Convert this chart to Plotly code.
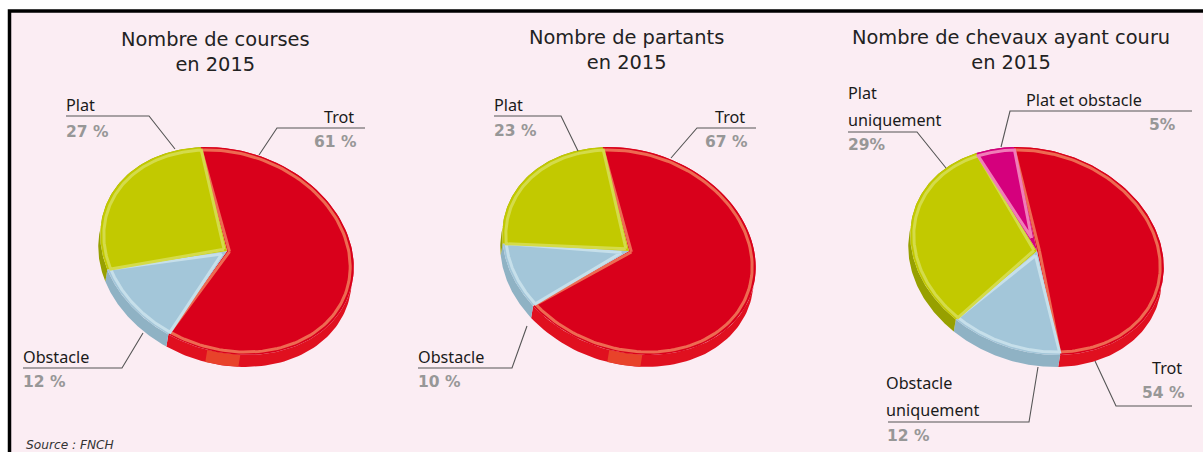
import numpy as np
import plotly.graph_objects as go

# Slice shares as labelled on the picture
courses_names = ["Trot", "Obstacle", "Plat"]
courses_values = [61, 12, 27]
partants_names = ["Trot", "Obstacle", "Plat"]
partants_values = [67, 10, 23]
# The third pie is not drawn to its printed labels: these are the shares
chevaux_names = ["Trot", "Obstacle uniquement", "Plat uniquement", "Plat et obstacle"]
chevaux_values = [50, 14, 31, 5]

titles = ["Nombre de courses<br>en 2015", "Nombre de partants<br>en 2015", "Nombre de chevaux ayant couru<br>en 2015"]
source_text = "Source : FNCH"

W, H = 1203, 452
BG = "#FBEDF3"
STYLE = {
    "Trot": ("#D9001B", "#EE6A52", "#E0101F"),
    "Obstacle": ("#A3C6D9", "#C6DFEA", "#8FB2C4"),
    "Plat": ("#C2C900", "#D4DB4A", "#97A000"),
    "Plat et obstacle": ("#D5007D", "#F07DB8", "#A8005F"),
}
PHI = np.radians(19)
RA, RB = 129.5, 100.5
DEPTH = (-2, 12)


def style_for(name):
    if name.startswith("Obstacle"):
        return STYLE["Obstacle"]
    if name.startswith("Plat u"):
        return STYLE["Plat"]
    return STYLE[name]


def project(hub, t, r=1.0):
    u, v = RA * r * np.cos(t), RB * r * np.sin(t)
    return hub[0] + u * np.cos(PHI) - v * np.sin(PHI), hub[1] + u * np.sin(PHI) + v * np.cos(PHI)


fig = go.Figure()


def add_pie(names, values, hub, start_deg, sheen=None):
    total = sum(values)
    edges = np.radians(start_deg) + np.concatenate([[0], np.cumsum(values)]) / total * 2 * np.pi

    def wall(t, color, name):
        x, y = project(hub, t)
        fig.add_trace(go.Scatter(
            x=np.concatenate([x, x[::-1] + DEPTH[0]]), y=np.concatenate([y, y[::-1] + DEPTH[1]]),
            fill="toself", mode="lines", fillcolor=color,
            line=dict(width=0), name=name, hoverinfo="skip"))

    for i, name in enumerate(names):
        wall(np.linspace(edges[i], edges[i + 1], 120), style_for(name)[2], name)
    if sheen:
        wall(np.radians(np.linspace(sheen[0], sheen[1], 20)), "#E8432A", names[0])
    for i, name in enumerate(names):  # top face
        main, light, _ = style_for(name)
        t = np.linspace(edges[i], edges[i + 1], 120)
        x, y = project(hub, t)
        fig.add_trace(go.Scatter(
            x=np.concatenate([[hub[0]], x, [hub[0]]]), y=np.concatenate([[hub[1]], y, [hub[1]]]),
            fill="toself", mode="lines", fillcolor=main, line=dict(width=0),
            name=name, hoverinfo="skip"))
        mid = (edges[i] + edges[i + 1]) / 2
        half = min((edges[i + 1] - edges[i]) / 2, np.pi / 2)
        hx, hy = project((0, 0), mid, 0.02 / np.sin(half))
        x3, y3 = project(hub, t, 0.972)
        fig.add_trace(go.Scatter(
            x=np.concatenate([[hub[0] + hx], x3, [hub[0] + hx]]),
            y=np.concatenate([[hub[1] + hy], y3, [hub[1] + hy]]),
            fill="toself", mode="lines", fillcolor=main, line=dict(width=3, color=light),
            name=name, hoverinfo="skip"))


add_pie(courses_names, courses_values, (227, 251), -117, sheen=(69, 84))
add_pie(partants_names, partants_values, (629, 251), -117, sheen=(69, 84))
add_pie(chevaux_names, chevaux_values, (1037, 251), -115.5)


def text(x, y, s, anchor="left", size=16.2, color="#1a1a1a", font="Noto Sans", bold=False, italic=False):
    fig.add_annotation(x=x, y=y, text=("<b>%s</b>" % s) if bold else ("<i>%s</i>" % s) if italic else s,
                       xref="x", yref="y", xanchor=anchor, yanchor="middle", showarrow=False,
                       font=dict(family=font, size=size, color=color), align="center")


def pct(x, y, s, anchor="left"):
    text(x, y, s, anchor, size=15.5, color="#979797", font="DejaVu Sans", bold=True)


for cx, cy, s in zip([215, 626, 1011], [52, 50, 50], titles):
    fig.add_annotation(x=cx, y=cy, text=s, xref="x", yref="y", showarrow=False, align="center",
                       font=dict(family="DejaVu Sans", size=19.4, color="#222222"))

for x, y, s in [(64, 105, "Plat"), (21, 357, "Obstacle"), (492, 105, "Plat"), (416, 357, "Obstacle"),
                (846, 93, "Plat"), (846, 120, "uniquement"), (1024, 100, "Plat et obstacle"),
                (884, 383, "Obstacle"), (884, 410, "uniquement")]:
    text(x, y, s)
for x, y, s in [(356, 117, "Trot"), (747, 117, "Trot"), (1184, 368, "Trot")]:
    text(x, y, s, "right")
for x, y, s in [(64, 132, "27 %"), (21, 382, "12 %"), (492, 131, "23 %"), (416, 382, "10 %"),
                (846, 145, "29%"), (885, 436, "12 %")]:
    pct(x, y, s)
for x, y, s in [(359, 142, "61 %"), (750, 142, "67 %"), (1178, 125, "5%"), (1187, 393, "54 %")]:
    pct(x, y, s, "right")
text(24, 445, source_text, size=12.2, color="#333333", font="DejaVu Sans", italic=True)

leaders = [
    [(66, 116), (149, 116), (175, 149)], [(365, 128), (277, 128), (259, 155)], [(23, 368), (122, 368), (143, 333)],
    [(494, 116), (561, 116), (578, 151)], [(756, 128), (697, 128), (671, 158)], [(418, 368), (512, 368), (527, 326)],
    [(848, 132), (917, 132), (946, 168)], [(1192, 111), (1010, 111), (1001, 147)],
    [(1192, 406), (1116, 406), (1095, 361)], [(888, 422), (1029, 422), (1038, 367)],
]
shapes = [dict(type="rect", xref="x", yref="y", x0=9.5, y0=11, x1=W + 20, y1=H + 20,
               fillcolor=BG, line=dict(color="#000000", width=3.5), layer="below")]
for pts in leaders:
    path = "M" + " L".join("%g,%g" % p for p in pts)
    shapes.append(dict(type="path", xref="x", yref="y", path=path, line=dict(color="#555555", width=1.1)))

fig.update_layout(
    width=W, height=H, margin=dict(l=0, r=0, t=0, b=0), showlegend=False,
    paper_bgcolor="#FFFFFF", plot_bgcolor="rgba(0,0,0,0)", shapes=shapes,
    xaxis=dict(range=[0, W], visible=False, fixedrange=True),
    yaxis=dict(range=[H, 0], visible=False, fixedrange=True),
)
fig.write_html("out.html", config=dict(displayModeBar=False),
               post_script="document.body.style.margin='0';document.body.style.overflow='hidden';")
